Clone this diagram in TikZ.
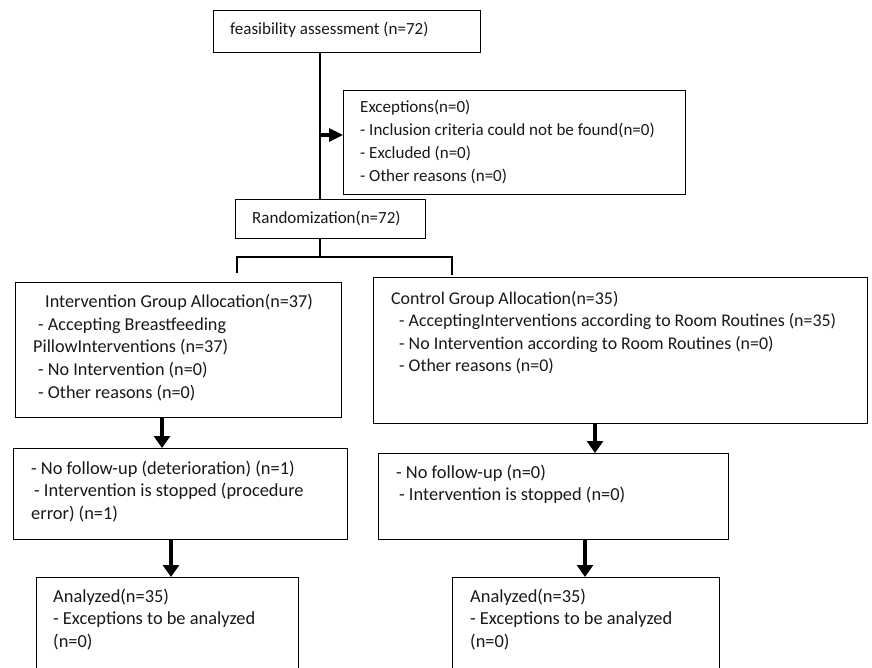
\documentclass[tikz,border=0pt]{standalone}
\usepackage{fontspec}
\setmainfont{Carlito}
\usetikzlibrary{arrows.meta}
\begin{document}
\begin{tikzpicture}[x=1pt,y=-1pt,
  box/.style={draw=black,line width=1.4pt,rectangle,inner sep=0pt,anchor=north west,fill=white},
  txt/.style={anchor=base west,inner sep=0pt,font=\fontsize{17}{22.7}\selectfont,text=black!90},
  bigtxt/.style={txt,font=\fontsize{18.4}{22.7}\selectfont},
  conn/.style={line width=1.4pt},
  downarrow/.style={line width=3.5pt,-{Triangle[width=16pt,length=12pt]}},
  sidearrow/.style={line width=3.2pt,-{Triangle[width=13pt,length=14pt]}}]
\useasboundingbox (0,0) rectangle (872,668);
\clip (0,0) rectangle (872,668);
% boxes
\node[box,minimum width=267pt,minimum height=42pt] (feas) at (213,10) {};
\node[box,minimum width=342pt,minimum height=104pt] (exc) at (343,90) {};
\node[box,minimum width=190pt,minimum height=39pt] (rand) at (235,199) {};
\node[box,minimum width=326pt,minimum height=135pt] (int) at (15,282) {};
\node[box,minimum width=494pt,minimum height=146pt] (ctl) at (373,277) {};
\node[box,minimum width=334pt,minimum height=91pt] (fu1) at (13,448) {};
\node[box,minimum width=350pt,minimum height=86pt] (fu2) at (378,453) {};
\node[box,minimum width=262pt,minimum height=130pt] (an1) at (36,577) {};
\node[box,minimum width=267pt,minimum height=130pt] (an2) at (452,577) {};
% texts
\node[txt] (tfeas) at (230,35) {\parbox[t]{260pt}{feasibility assessment (n=72)}};
\node[txt] (texc) at (360,113) {\parbox[t]{330pt}{Exceptions(n=0)\\- Inclusion criteria could not be found(n=0)\\- Excluded (n=0)\\- Other reasons (n=0)}};
\node[txt] (trand) at (252,224) {\parbox[t]{180pt}{Randomization(n=72)}};
\node[txt,font=\fontsize{18.2}{22.7}\selectfont] (tint) at (33,307.5) {\parbox[t]{320pt}{\hspace*{12pt}Intervention Group Allocation(n=37)\\\hspace*{5pt}- Accepting Breastfeeding\\PillowInterventions (n=37)\\\hspace*{5pt}- No Intervention (n=0)\\\hspace*{5pt}- Other reasons (n=0)}};
\node[txt,font=\fontsize{17.9}{22.6}\selectfont] (tctl) at (391,304) {\parbox[t]{480pt}{Control Group Allocation(n=35)\\\hspace*{8pt}- AcceptingInterventions according to Room Routines (n=35)\\\hspace*{8pt}- No Intervention according to Room Routines (n=0)\\\hspace*{8pt}- Other reasons (n=0)}};
\node[bigtxt] (tfu1) at (31,474) {\parbox[t]{320pt}{- No follow-up (deterioration) (n=1)\\\hspace*{3pt}- Intervention is stopped (procedure\\error) (n=1)}};
\node[bigtxt] (tfu2) at (396,478) {\parbox[t]{330pt}{- No follow-up (n=0)\\\hspace*{3pt}- Intervention is stopped (n=0)}};
\node[bigtxt] (tan1) at (53,602) {\parbox[t]{240pt}{Analyzed(n=35)\\- Exceptions to be analyzed\\(n=0)}};
\node[bigtxt] (tan2) at (470,602) {\parbox[t]{240pt}{Analyzed(n=35)\\- Exceptions to be analyzed\\(n=0)}};
% helper coordinates
\coordinate (trunk) at (320,135);
\coordinate (split) at (320,257);
\coordinate (lend) at (237,273);
\coordinate (rend) at (452,275);
\coordinate (a1) at (162,0);
\coordinate (a2) at (595,0);
\coordinate (a3) at (171,0);
\coordinate (a4) at (585,0);
% connectors
\draw[conn] (feas.south -| trunk) -- (rand.north -| trunk);
\draw[sidearrow] ([xshift=-1.5pt]trunk) -- (exc.west |- trunk);
\draw[conn] (rand.south -| split) -- (split);
\draw[conn] (lend) -- (lend |- split) -- (rend |- split) -- (rend);
\draw[downarrow] (int.south -| a1) -- (fu1.north -| a1);
\draw[downarrow] (ctl.south -| a2) -- (fu2.north -| a2);
\draw[downarrow] (fu1.south -| a3) -- (an1.north -| a3);
\draw[downarrow] (fu2.south -| a4) -- (an2.north -| a4);
\end{tikzpicture}
\end{document}
